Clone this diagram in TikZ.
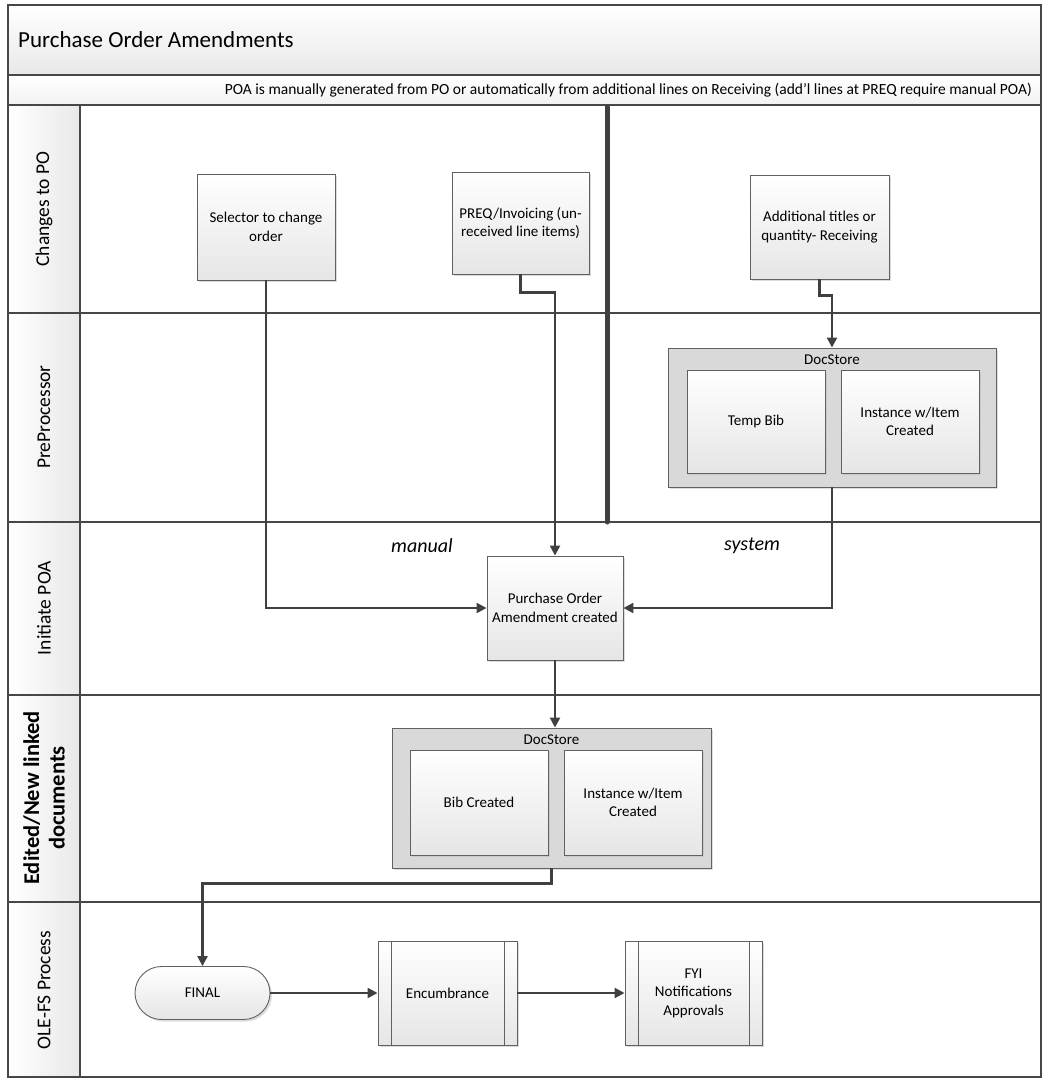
\documentclass[tikz,border=0pt]{standalone}
\usepackage{fontspec}
\setmainfont{Carlito}
\usetikzlibrary{arrows.meta,shadows,shapes.misc,calc}
\begin{document}
\begin{tikzpicture}[x=1pt,y=-1pt,
  laneline/.style={draw=black!72, line width=1.8pt},
  box/.style={draw=black!62, line width=0.9pt, top color=white, bottom color=black!10,
    drop shadow={shadow xshift=2pt,shadow yshift=-2pt,fill=black!28},
    align=center, font=\fontsize{15}{18.5}\selectfont, inner sep=2pt},
  store/.style={draw=black!62, line width=0.9pt, fill=black!15,
    drop shadow={shadow xshift=2pt,shadow yshift=-2pt,fill=black!25}},
  storelabel/.style={font=\fontsize{15}{17}\selectfont, inner sep=0pt},
  proc/.style={box, path picture={
    \draw[black!62,line width=0.9pt] ([xshift=13pt]path picture bounding box.north west) -- ([xshift=13pt]path picture bounding box.south west);
    \draw[black!62,line width=0.9pt] ([xshift=-13pt]path picture bounding box.north east) -- ([xshift=-13pt]path picture bounding box.south east);}},
  flow/.style={draw=black!75, line width=2.3pt, -{Triangle[length=10pt,width=10pt]}},
  lanelabel/.style={rotate=90, font=\fontsize{19.5}{22}\selectfont, align=center, inner sep=0pt},
]
\useasboundingbox (0,0) rectangle (1054,1088);
% bands
\fill[top color=white, bottom color=black!9] (8,5) rectangle (1041,75);
\fill[top color=white, bottom color=black!5] (8,75) rectangle (1041,105);
\fill[left color=white, right color=black!9] (8,105) rectangle (80,1077);
% frame and lanes
\draw[laneline] (8,5) rectangle (1041,1077);
\foreach \yy in {75,105,313,522,695,902} \draw[laneline] (8,\yy) -- (1041,\yy);
\draw[laneline] (80,105) -- (80,1077);
% texts
\node[anchor=west, font=\fontsize{23}{26}\selectfont, inner sep=0pt] (title) at (18,40) {Purchase Order Amendments};
\node[anchor=east, font=\fontsize{15.5}{18}\selectfont, inner sep=0pt] (note) at (1032,90) {POA is manually generated from PO or automatically from additional lines on Receiving (add’l lines at PREQ require manual POA)};
\node[lanelabel] (l1) at (44,209) {Changes to PO};
\node[lanelabel] (l2) at (44,417) {PreProcessor};
\node[lanelabel] (l3) at (44,608) {Initiate POA};
\node[lanelabel, font=\bfseries\fontsize{22.5}{25.5}\selectfont] (l4) at (44,798) {Edited/New linked\\documents};
\node[lanelabel] (l5) at (44,990) {OLE-FS Process};
% separator
\draw[black!75, line width=5pt, line cap=round] (607,107) -- (607,522);
\node[font=\itshape\fontsize{20}{23}\selectfont] (man) at (422,546) {manual};
\node[font=\itshape\fontsize{20}{23}\selectfont] (sys) at (752,546) {system};
% boxes
\node[box, minimum width=138pt, minimum height=106pt] (sel) at (266,227) {Selector to change\\order};
\node[box, minimum width=137pt, minimum height=102pt] (preq) at (520.5,223) {PREQ/Invoicing (un-\\received line items)};
\node[box, minimum width=139pt, minimum height=104pt] (add) at (819.5,227) {Additional titles or\\quantity- Receiving};
\node[store, minimum width=328pt, minimum height=139pt] (ds1) at (832,417.5) {};
\node[storelabel] (ds1l) at (832,360) {DocStore};
\node[box, minimum width=138pt, minimum height=103pt] (tbib) at (756,421.5) {Temp Bib};
\node[box, minimum width=138pt, minimum height=103pt] (inst1) at (910,421.5) {Instance w/Item\\Created};
\node[box, minimum width=136pt, minimum height=104pt] (poa) at (555,608) {Purchase Order\\Amendment created};
\node[store, minimum width=319pt, minimum height=140pt] (ds2) at (551.5,798) {};
\node[storelabel] (ds2l) at (551.5,740) {DocStore};
\node[box, minimum width=138pt, minimum height=105pt] (bib) at (479,802.5) {Bib Created};
\node[box, minimum width=138pt, minimum height=105pt] (inst2) at (633,802.5) {Instance w/Item\\Created};
\node[box, rounded rectangle, minimum width=139pt, minimum height=53pt] (final) at (202.5,993) {FINAL};
\node[proc, minimum width=139pt, minimum height=104pt] (enc) at (447.5,993) {Encumbrance};
\node[proc, minimum width=137pt, minimum height=104pt] (fyi) at (693.5,993) {FYI\\Notifications\\Approvals};
% connectors
\draw[flow] (sel.south) |- (poa.west);
\draw[flow] (preq.south) -- ++(0,18) -| (poa.north);
\draw[flow] (add.south) -- ++(0,16) -| (ds1.north);
\draw[flow] (ds1.south) |- (poa.east);
\draw[flow] (poa.south) -- (poa.south |- ds2.north);
\draw[flow] (ds2.south) -- ++(0,15) -| (final.north);
\draw[flow] (final.east) -- (enc.west);
\draw[flow] (enc.east) -- (fyi.west);
\end{tikzpicture}
\end{document}
